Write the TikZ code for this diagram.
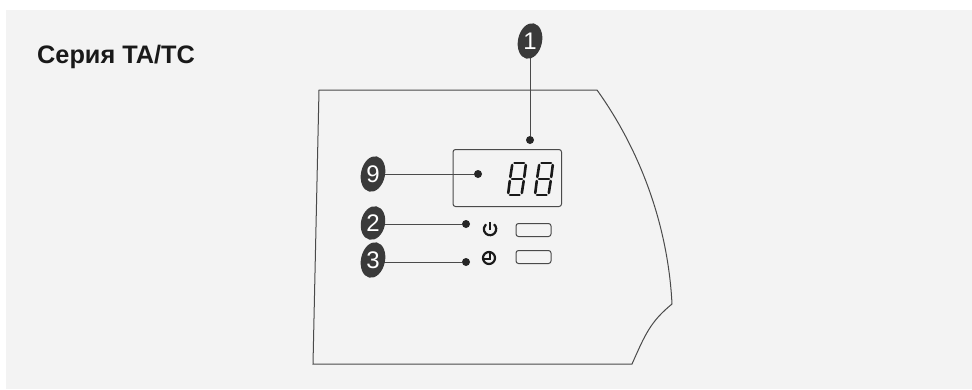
\documentclass[tikz,border=0pt]{standalone}
\usepackage{fontspec}
\setmainfont{Liberation Sans}
\usetikzlibrary{shapes.geometric}
\definecolor{bgpanel}{HTML}{F3F3F3}
\definecolor{inkdark}{HTML}{3A3A3A}
\definecolor{linegrey}{HTML}{4A4A4A}
\tikzset{
  x=1pt,y=-1pt,
  outline/.style={draw=linegrey,line width=1pt,line join=miter},
  thin box/.style={draw=linegrey,line width=1pt,rounded corners=2.5pt},
  badge/.style={ellipse,fill=inkdark,minimum width=24pt,minimum height=36pt,inner sep=0pt,rotate=-12},
  badgetext/.style={text=white,font=\fontsize{24}{24}\selectfont,inner sep=0pt},
  leader/.style={draw=linegrey,line width=1pt},
  dotmark/.style={circle,fill=black!85,minimum size=8pt,inner sep=0pt},
  seg/.style={draw=black!90,line width=2.6pt,line cap=round,shorten >=2pt,shorten <=2pt},
  icon/.style={draw=black!90,line width=2.2pt}
}
\newcommand{\digitglyph}[1]{%
  \begin{scope}[shift={(#1,0)}]
    \draw[seg] (5.5,163) -- (19,163);
    \draw[seg] (3,179) -- (17,179);
    \draw[seg] (1,195) -- (14.5,195);
    \draw[seg] (5.5,163) -- (3,179);
    \draw[seg] (19,163) -- (17,179);
    \draw[seg] (3,179) -- (1,195);
    \draw[seg] (17,179) -- (14.5,195);
  \end{scope}}
\begin{document}
\begin{tikzpicture}
\useasboundingbox (0,0) rectangle (972,389);
\fill[white] (0,0) rectangle (972,389);
\fill[bgpanel] (6,10) rectangle (972,389);
\node[anchor=base west,font=\bfseries\fontsize{25.3}{25.3}\selectfont,text=black!90,inner sep=0pt] (title) at (37,63) {Серия TA/TC};
\draw[outline] (319,90) -- (597,90) .. controls (640,150) and (668,225) .. (672,304) .. controls (650,322) and (645,335) .. (632,364) -- (313,364) -- cycle;
\draw[thin box] (453,149.5) rectangle (561.5,206.5);
\digitglyph{507}\digitglyph{534}
\draw[thin box] (516,223.5) rectangle (551,236.5);
\draw[thin box] (516,250.5) rectangle (551,263.5);
\node[dotmark] (d1) at (530,140) {};
\node[dotmark] (d9) at (478,174) {};
\node[dotmark] (d2) at (466,224) {};
\node[dotmark] (d3) at (466,262) {};
\coordinate (c1) at (530,41);
\coordinate (c9) at (373,174);
\coordinate (c2) at (373,223);
\coordinate (c3) at (373,260);
\draw[leader] (c1) -- (d1);
\draw[leader] (d9 -| c9) -- (d9);
\draw[leader] (d2 -| c2) -- (d2);
\draw[leader] (d3 -| c3) -- (d3);
\node[badge] (b1) at (c1) {};
\node[badgetext] at (b1) {1};
\node[badge] (b9) at (c9) {};
\node[badgetext] at (b9) {9};
\node[badge,minimum height=34pt] (b2) at (c2) {};
\node[badgetext] at (b2) {2};
\node[badge] (b3) at (c3) {};
\node[badgetext] at (b3) {3};
\draw[icon] (490,229) ++(-50:6.2) arc (-50:230:6.2);
\draw[icon] (490,222) -- (490,230);
\draw[icon] (489,258) circle (6);
\draw[icon,line width=1.8pt] (490,253) -- (490,259) -- (484,259);
\end{tikzpicture}
\end{document}
